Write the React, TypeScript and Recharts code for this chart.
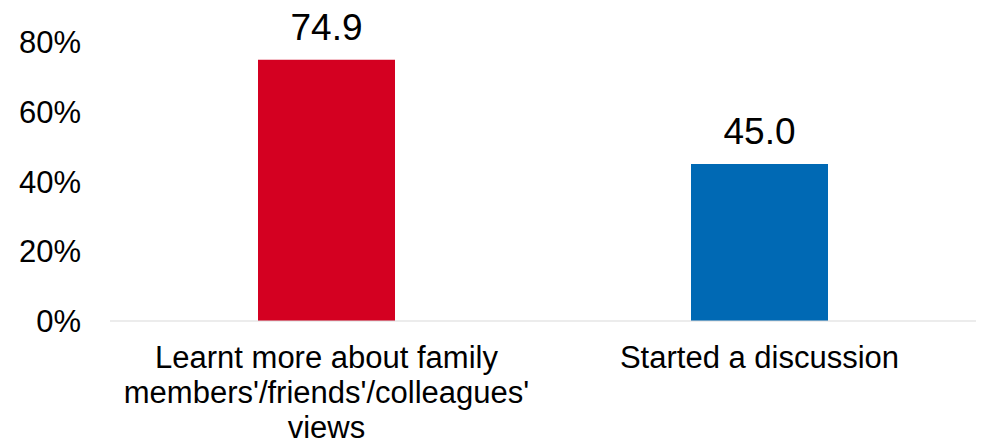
import React from 'react';
import { BarChart, Bar, XAxis, YAxis, Cell, LabelList } from 'recharts';

const categories = [
  "Learnt more about family members'/friends'/colleagues' views",
  'Started a discussion',
];
const categoryLines = [
  ['Learnt more about family', "members'/friends'/colleagues'", 'views'],
  ['Started a discussion'],
];
const values = [74.9, 45.0];
const barColors = ['#D40021', '#0069B4'];
const yTicks = [0, 20, 40, 60, 80];

const data = categories.map((c, i) => ({ name: c, value: values[i] }));

const FONT = '"Liberation Sans", Arial, sans-serif';

const CategoryTick = (props: any) => {
  const { x, y, payload, index } = props;
  const lines = categoryLines[index] ?? [payload.value];
  return (
    <text x={x} y={y} textAnchor="middle" fill="#000" fontSize={31} fontFamily={FONT}>
      {lines.map((l: string, i: number) => (
        <tspan key={i} x={x} dy={i === 0 ? 47 : 35}>
          {l}
        </tspan>
      ))}
    </text>
  );
};

export default function App() {
  return (
    <div style={{ position: 'absolute', left: 0, top: 0, width: 984, height: 445, overflow: 'hidden' }}>
      <BarChart
        width={984}
        height={445}
        data={data}
        margin={{ top: 42, right: 8, bottom: 0, left: 0 }}
        style={{ overflow: 'visible' }}
      >
        <XAxis
          dataKey="name"
          height={124}
          tickLine={false}
          tickSize={0}
          tickMargin={0}
          axisLine={{ stroke: '#D9D9D9', strokeWidth: 1 }}
          tick={<CategoryTick />}
          interval={0}
        />
        <YAxis
          width={110}
          domain={[0, 80]}
          ticks={yTicks}
          axisLine={false}
          tickLine={false}
          tickSize={0}
          tickMargin={29}
          tickFormatter={(v: number) => `${v}%`}
          tick={{ fill: '#000', fontSize: 31, fontFamily: FONT }}
        />
        <Bar dataKey="value" barSize={137} isAnimationActive={false}>
          {data.map((d, i) => (
            <Cell key={i} fill={barColors[i]} />
          ))}
          <LabelList
            dataKey="value"
            position="top"
            offset={20}
            formatter={(v: number) => v.toFixed(1)}
            style={{ fill: '#000', fontSize: 37, fontFamily: FONT }}
          />
        </Bar>
      </BarChart>
    </div>
  );
}
